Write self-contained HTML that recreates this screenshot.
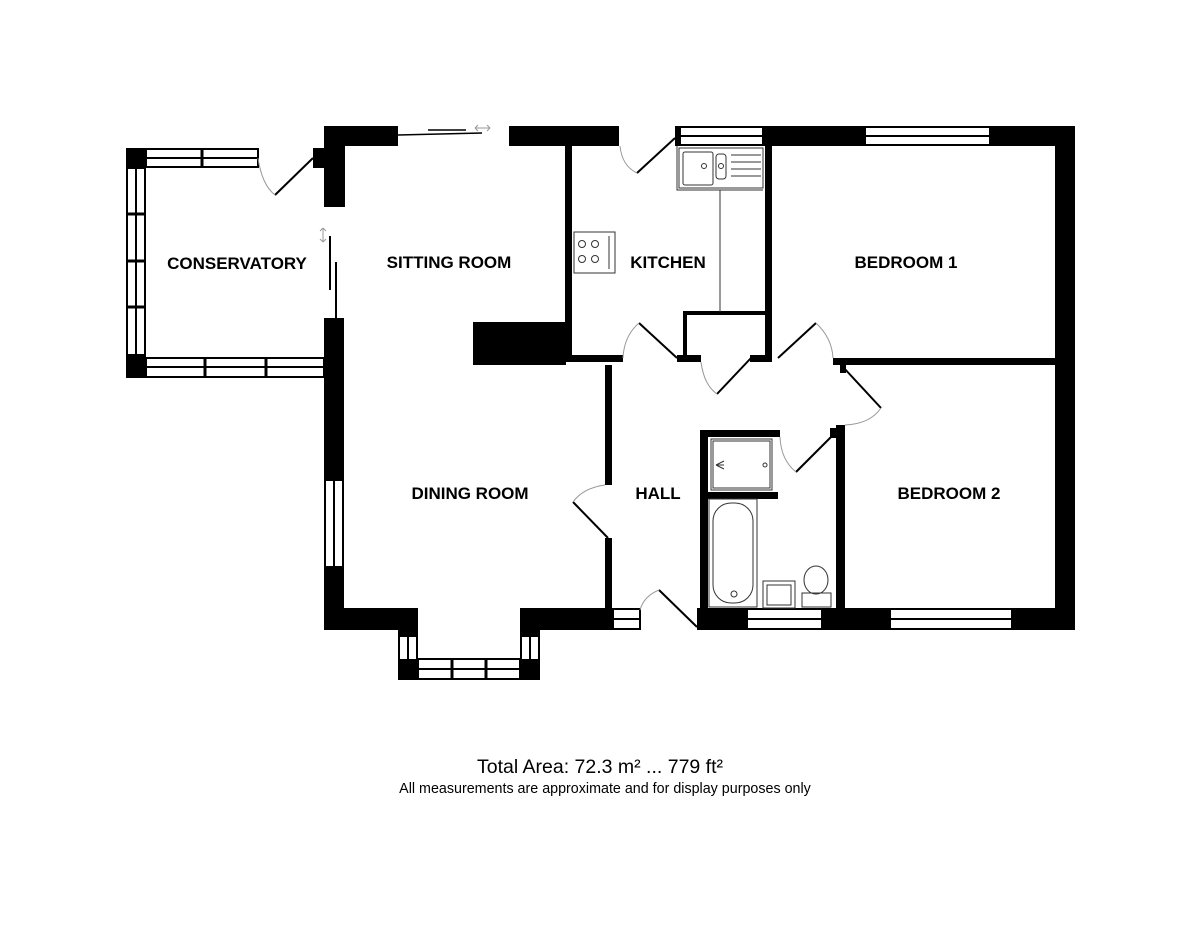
<!DOCTYPE html>
<html><head><style>
html,body{margin:0;padding:0;background:#fff;}
svg{display:block}
.l{font-family:"Liberation Sans",Arial,sans-serif;font-weight:bold;font-size:17px;fill:#000;text-anchor:middle}
</style></head><body>
<svg width="1200" height="936" viewBox="0 0 1200 936" xmlns="http://www.w3.org/2000/svg">
<g fill="#000">
<rect x="324" y="126" width="74" height="20"/>
<rect x="324" y="126" width="21" height="81"/>
<rect x="313" y="148" width="32" height="20"/>
<rect x="509" y="126" width="110" height="20"/>
<rect x="565" y="146" width="7" height="216"/>
<rect x="675" y="126" width="5" height="20"/>
<rect x="763" y="126" width="102" height="20"/>
<rect x="990" y="126" width="85" height="20"/>
<rect x="1055" y="126" width="20" height="504"/>
<rect x="765" y="146" width="7" height="216"/>
<rect x="560" y="355" width="63" height="7"/>
<rect x="677" y="355" width="24" height="7"/>
<rect x="750" y="355" width="22" height="7"/>
<rect x="683" y="311" width="4" height="48"/>
<rect x="683" y="311" width="82" height="4"/>
<rect x="833" y="358" width="222" height="7"/>
<rect x="840" y="365" width="6" height="8"/>
<rect x="473" y="322" width="93" height="43"/>
<rect x="605" y="365" width="7" height="120"/>
<rect x="605" y="538" width="7" height="72"/>
<rect x="324" y="318" width="20" height="162"/>
<rect x="324" y="567" width="20" height="63"/>
<rect x="324" y="608" width="94" height="22"/>
<rect x="520" y="608" width="92" height="22"/>
<rect x="398" y="630" width="20" height="6"/>
<rect x="520" y="630" width="20" height="6"/>
<rect x="398" y="660" width="20" height="20"/>
<rect x="520" y="660" width="20" height="20"/>
<rect x="697" y="608" width="50" height="22"/>
<rect x="822" y="608" width="68" height="22"/>
<rect x="1012" y="608" width="63" height="22"/>
<rect x="700" y="430" width="8" height="180"/>
<rect x="700" y="430" width="80" height="7"/>
<rect x="708" y="492" width="70" height="7"/>
<rect x="836" y="425" width="9" height="185"/>
<rect x="830" y="428" width="8" height="10"/>
<rect x="126" y="148" width="20" height="20"/>
<rect x="126" y="355" width="20" height="23"/>
</g>
<g fill="none" stroke="#000" stroke-width="2">
<rect x="146" y="149" width="112" height="18"/><line x1="146" y1="158" x2="258" y2="158"/><line x1="202" y1="149" x2="202" y2="167" stroke-width="3"/>
<rect x="127" y="168" width="18" height="187"/><line x1="136" y1="168" x2="136" y2="355"/>
<line x1="127" y1="214" x2="145" y2="214" stroke-width="3"/><line x1="127" y1="261" x2="145" y2="261" stroke-width="3"/><line x1="127" y1="307" x2="145" y2="307" stroke-width="3"/>
<rect x="146" y="358" width="178" height="19"/><line x1="146" y1="367" x2="324" y2="367"/><line x1="205" y1="358" x2="205" y2="377" stroke-width="3"/><line x1="266" y1="358" x2="266" y2="377" stroke-width="3"/>
<rect x="325" y="480" width="18" height="87"/><line x1="334" y1="480" x2="334" y2="567"/>
<rect x="680" y="127" width="83" height="18"/><line x1="680" y1="136" x2="763" y2="136"/>
<rect x="865" y="127" width="125" height="18"/><line x1="865" y1="136" x2="990" y2="136"/>
<rect x="418" y="659" width="102" height="20"/><line x1="418" y1="669" x2="520" y2="669"/><line x1="452" y1="659" x2="452" y2="679" stroke-width="3"/><line x1="486" y1="659" x2="486" y2="679" stroke-width="3"/>
<rect x="399" y="636" width="18" height="24"/><line x1="408" y1="636" x2="408" y2="660"/>
<rect x="521" y="636" width="18" height="24"/><line x1="530" y1="636" x2="530" y2="660"/>
<rect x="613" y="609" width="27" height="20"/><line x1="613" y1="619" x2="640" y2="619"/>
<rect x="747" y="609" width="75" height="20"/><line x1="747" y1="619" x2="822" y2="619"/>
<rect x="890" y="609" width="122" height="20"/><line x1="890" y1="619" x2="1012" y2="619"/>
<line x1="313" y1="158" x2="275" y2="195"/>
<line x1="675" y1="138" x2="637" y2="173"/>
<line x1="677" y1="358" x2="639" y2="323"/>
<line x1="751" y1="358" x2="717" y2="394"/>
<line x1="778" y1="358" x2="816" y2="323"/>
<line x1="843" y1="367" x2="881" y2="408"/>
<line x1="836" y1="432" x2="796" y2="472"/>
<line x1="608" y1="538" x2="573" y2="502"/>
<line x1="697" y1="627" x2="659" y2="590"/>
<line x1="398" y1="135" x2="482" y2="133" stroke-width="1.5"/>
<line x1="428" y1="130" x2="466" y2="130" stroke-width="1.5"/>
<line x1="330" y1="236" x2="330" y2="290"/>
<line x1="336" y1="262" x2="336" y2="318"/>
</g>
<g fill="none" stroke="#999" stroke-width="1">
<path d="M258 158 Q262 185 275 195"/>
<path d="M620 146 Q622 166 637 173"/>
<path d="M623 358 Q624 336 639 323"/>
<path d="M701 362 Q704 385 717 394"/>
<path d="M816 323 Q832 338 833 358"/>
<path d="M881 408 Q870 424 845 425"/>
<path d="M780 437 Q781 460 796 472"/>
<path d="M605 485 Q583 488 573 502"/>
<path d="M640 610 Q644 596 659 590"/>
<path d="M475 128 L490 128 M475 128 l3 -3 M475 128 l3 3 M490 128 l-3 -3 M490 128 l-3 3"/>
<path d="M323 228 L323 242 M323 228 l-3 3 M323 228 l3 3 M323 242 l-3 -3 M323 242 l3 -3"/>
</g>
<g fill="none" stroke="#333" stroke-width="1">
<rect x="574" y="232" width="41" height="41"/>
<circle cx="582" cy="244" r="3.5"/><circle cx="595" cy="244" r="3.5"/><circle cx="582" cy="259" r="3.5"/><circle cx="595" cy="259" r="3.5"/>
<line x1="609" y1="236" x2="609" y2="269"/>
<path d="M677 146 L677 190 L763 190 M720 190 L720 312"/>
<rect x="679" y="148" width="84" height="40"/>
<rect x="683" y="152" width="30" height="33" rx="2"/><rect x="716" y="154" width="10" height="25" rx="3"/>
<circle cx="704" cy="166" r="2.5"/><circle cx="721" cy="166" r="2.5"/>
<line x1="731" y1="155" x2="761" y2="155"/><line x1="731" y1="162" x2="761" y2="162"/><line x1="731" y1="169" x2="761" y2="169"/><line x1="731" y1="176" x2="761" y2="176"/>
<rect x="711" y="439" width="61" height="51"/><rect x="713" y="441" width="57" height="47"/>
<circle cx="765" cy="465" r="2"/><path d="M716 465 l8 -4 M716 465 l8 4 M716 465 h8"/>
<rect x="709" y="499" width="48" height="108"/><rect x="713" y="503" width="40" height="100" rx="18"/>
<circle cx="734" cy="594" r="3"/>
<rect x="763" y="581" width="32" height="27"/><rect x="767" y="585" width="24" height="20"/>
<ellipse cx="816" cy="580" rx="12" ry="14"/><rect x="802" y="593" width="29" height="14"/>
</g>
<g>
<text x="237" y="269" class="l">CONSERVATORY</text>
<text x="449" y="268" class="l">SITTING ROOM</text>
<text x="668" y="268" class="l">KITCHEN</text>
<text x="906" y="268" class="l">BEDROOM 1</text>
<text x="470" y="499" class="l">DINING ROOM</text>
<text x="658" y="499" class="l">HALL</text>
<text x="949" y="499" class="l">BEDROOM 2</text>
</g>
<text x="600" y="773" font-family="Liberation Sans,Arial,sans-serif" font-size="19.5" text-anchor="middle">Total Area: 72.3 m² ... 779 ft²</text>
<text x="605" y="793" font-family="Liberation Sans,Arial,sans-serif" font-size="14.3" text-anchor="middle">All measurements are approximate and for display purposes only</text>
</svg>
</body></html>
